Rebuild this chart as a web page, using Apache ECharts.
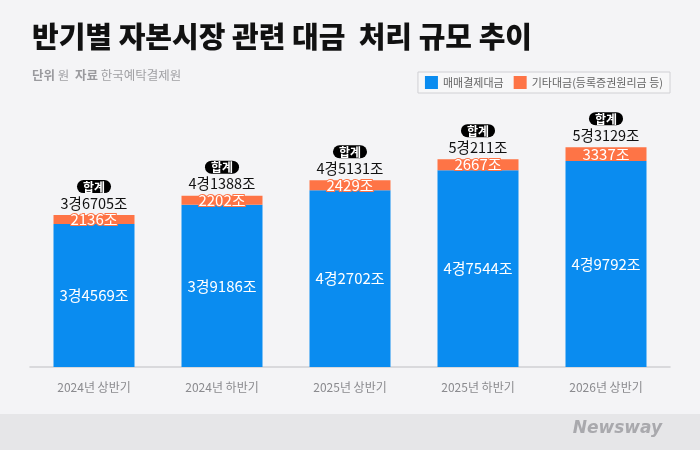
<!DOCTYPE html>
<html><head><meta charset="utf-8">
<script src="https://cdn.jsdelivr.net/npm/echarts@6/dist/echarts.min.js"></script>
<style>html,body{margin:0;padding:0;background:#f4f4f6;}#c{width:700px;height:450px;}</style>
</head><body><div id="c"></div>
<script>
const categories = ['2024년 상반기','2024년 하반기','2025년 상반기','2025년 하반기','2026년 상반기'];
const tradeSettlement = [34569, 39186, 42702, 47544, 49792];
const otherPayments = [2136, 2202, 2429, 2667, 3337];
const totals = [36705, 41388, 45131, 50211, 53129];
const seriesNames = ['매매결제대금','기타대금(등록증권원리금 등)'];

const FONT = '"Noto Sans CJK KR", "Noto Sans", sans-serif';
const BLUE = '#0a8cf0', ORANGE = '#fe7446';
function fmt(v){ const g=Math.floor(v/10000), r=v%10000; return (g>0? g+'경':'')+r+'조'; }

const chart = echarts.init(document.getElementById('c'));
chart.setOption({
  backgroundColor: '#f4f4f6',
  textStyle: {fontFamily: FONT},
  animation: false,
  grid: {left: 30, right: 30, top: 98, bottom: 83},
  legend: {
    right: 30, top: 72, itemWidth: 13, itemHeight: 13, itemGap: 10, icon: 'rect',
    padding: [4, 7], borderColor: '#d0d0d4', borderWidth: 1, backgroundColor: '#f7f7f8',
    textStyle: {color: '#666', fontSize: 11, fontFamily: FONT},
    data: seriesNames
  },
  xAxis: {
    type: 'category', data: categories,
    axisLine: {lineStyle: {color: '#cfcfd3', width: 1.5}},
    axisTick: {show: false},
    axisLabel: {color: '#8a8a8e', fontSize: 12, margin: 14, fontFamily: FONT}
  },
  yAxis: {type: 'value', min: 0, max: 65000, show: false, splitLine: {show: false}},
  series: [
    {name: seriesNames[0], type: 'bar', stack: 's', data: tradeSettlement, barWidth: 81,
     itemStyle: {color: BLUE},
     label: {show: true, position: 'inside', color: '#fff', fontSize: 15, fontFamily: FONT,
       formatter: p => fmt(p.value)}},
    {name: seriesNames[1], type: 'bar', stack: 's', data: otherPayments, barWidth: 81,
     itemStyle: {color: ORANGE},
     label: {show: true, position: 'inside', color: '#fff', fontSize: 15, fontFamily: FONT,
       textBorderColor: ORANGE, textBorderWidth: 2,
       formatter: p => fmt(p.value)}},
    {type: 'scatter', data: totals, symbolSize: 0, silent: true, legendHoverLink: false,
     itemStyle: {opacity: 1},
     label: {show: true, position: 'top', distance: 3,
       formatter: p => '{pill|합계}\n{val|' + fmt(p.value) + '}',
       rich: {
         pill: {backgroundColor: '#000', color: '#fff', fontWeight: 'bold', fontSize: 12,
                padding: [1, 6, 0, 6], borderRadius: 8, lineHeight: 15, fontFamily: FONT},
         val: {color: '#111', fontSize: 14.5, lineHeight: 18, fontFamily: FONT}
       }}}
  ],
  graphic: [
    {type: 'rect', left: 0, top: 414, shape: {width: 700, height: 36}, style: {fill: '#e6e6e8'}, z: -1},
    {type: 'text', left: 32, top: 22, style: {text: '반기별 자본시장 관련 대금  처리 규모 추이', fill: '#111',
      font: '900 29px ' + FONT}},
    {type: 'text', left: 32, top: 69, style: {text: '{b|단위} 원  {b|자료} 한국예탁결제원',
      rich: {b: {fontWeight: 'bold', fill: '#9a9a9e', fontSize: 12.5, fontFamily: FONT}},
      fill: '#a0a0a4', font: '12.5px ' + FONT}},
    {type: 'text', right: 38, top: 420, style: {text: 'Newsway', fill: '#a9a9ad',
      font: 'italic bold 17px "DejaVu Sans", sans-serif'}}
  ]
});
</script></body></html>
